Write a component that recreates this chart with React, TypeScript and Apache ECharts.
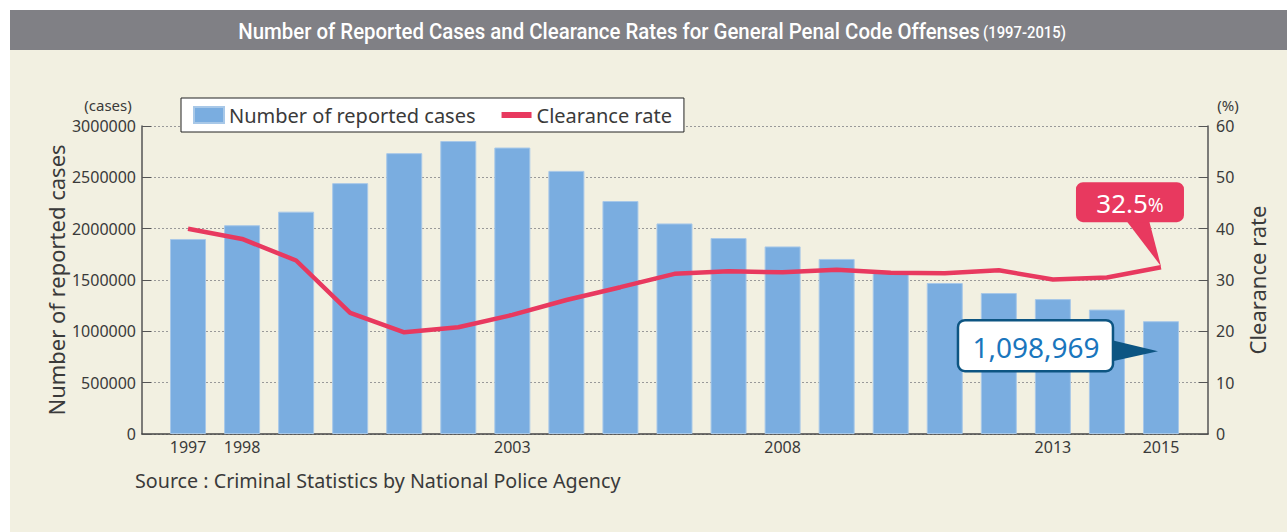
import React, { useEffect, useRef } from "react";
import * as echarts from "echarts";

const years = [
  "1997", "1998", "1999", "2000", "2001", "2002", "2003", "2004", "2005", "2006",
  "2007", "2008", "2009", "2010", "2011", "2012", "2013", "2014", "2015",
];
const reportedCases = [
  1899564, 2033546, 2165626, 2443470, 2735612, 2853739, 2790136, 2562767, 2269572, 2050850,
  1908836, 1826958, 1705000, 1578000, 1471000, 1373000, 1314140, 1212163, 1098969,
];
const clearanceRate = [
  40.0, 38.0, 33.8, 23.6, 19.8, 20.8, 23.2, 26.1, 28.6, 31.2,
  31.7, 31.5, 32.0, 31.4, 31.3, 31.9, 30.1, 30.5, 32.5,
];
const shownYearLabels = ["1997", "1998", "2003", "2008", "2013", "2015"];
const seriesNames = ["Number of reported cases", "Clearance rate"];
const titleMain = "Number of Reported Cases and Clearance Rates for General Penal Code Offenses";
const titleYears = "(1997-2015)";
const sourceText = "Source : Criminal Statistics by National Police Agency";
const lastCasesLabel = "1,098,969";
const lastRateLabel = "32.5";

export default function App() {
  const ref = useRef<HTMLDivElement>(null);
  useEffect(() => {
    document.body.style.margin = "0";
    const chart = echarts.init(ref.current!, null, { renderer: "svg" });
    const font = "'Noto Sans', 'Open Sans', sans-serif";
    const titleFont = "Roboto, 'Liberation Sans', sans-serif";
    const txt = "#3a3a3a";
    const barColor = "#7aade0";
    const lineColor = "#e8395f";

    // measure title width to fit the condensed look of the reference
    const cv = document.createElement("canvas");
    const ctx = cv.getContext("2d")!;
    ctx.font = `500 22px ${titleFont}`;
    const wA = ctx.measureText(titleMain + " ").width;
    ctx.font = `500 16px ${titleFont}`;
    const wB = ctx.measureText(titleYears).width;
    const titleScale = Math.min(1, 830 / (wA + wB));

    chart.setOption({
      animation: false,
      backgroundColor: "#f2f0e1",
      textStyle: { fontFamily: font },
      grid: [
        { left: 142, right: 79, top: 126, bottom: 98 },
        { left: 161, right: 99, top: 126, bottom: 98 },
      ],
      legend: {
        left: 181,
        top: 98,
        backgroundColor: "#ffffff",
        borderColor: "#222222",
        borderWidth: 1,
        borderRadius: 0,
        padding: [7, 12, 7, 12],
        itemWidth: 30,
        itemHeight: 16,
        itemGap: 26,
        textStyle: { fontSize: 20, color: txt, fontFamily: font },
        data: [
          { name: seriesNames[0], icon: "rect" },
          { name: seriesNames[1], icon: "path://M0,0h30v6h-30z" },
        ],
      },
      xAxis: [
        {
          type: "category",
          gridIndex: 0,
          data: years,
          axisLine: { lineStyle: { color: "#444", width: 1.5 } },
          axisTick: { show: false },
          axisLabel: { show: false },
        },
        {
          type: "category",
          gridIndex: 1,
          data: years,
          axisLine: { show: false },
          axisTick: { show: false },
          axisLabel: {
            interval: (i: number, v: string) => shownYearLabels.includes(v),
            fontSize: 16,
            color: txt,
            margin: 5,
          },
        },
      ],
      yAxis: [
        {
          type: "value",
          gridIndex: 0,
          min: 0,
          max: 3000000,
          interval: 500000,
          name: "Number of reported cases",
          nameLocation: "middle",
          nameRotate: 90,
          nameGap: 75,
          nameMoveOverlap: false,
          nameTextStyle: { fontSize: 22, color: txt },
          axisLine: { show: true, lineStyle: { color: "#555", width: 1.5 } },
          axisTick: { show: true, inside: true, length: 9, lineStyle: { color: "#555" } },
          axisLabel: { fontSize: 16, color: txt, margin: 6, formatter: (v: number) => String(v) },
          splitLine: { show: true, lineStyle: { color: "#999", type: [2, 2], width: 1 } },
        },
        {
          type: "value",
          gridIndex: 0,
          position: "right",
          min: 0,
          max: 60,
          interval: 10,
          name: "Clearance rate",
          nameLocation: "middle",
          nameRotate: 90,
          nameGap: 38,
          nameTextStyle: { fontSize: 22, color: txt },
          axisLine: { show: true, lineStyle: { color: "#555", width: 1.5 } },
          axisTick: { show: true, inside: true, length: 9, lineStyle: { color: "#555" } },
          axisLabel: { fontSize: 16, color: txt, margin: 8 },
          splitLine: { show: false },
        },
        { type: "value", gridIndex: 1, min: 0, max: 3000000, show: false, splitLine: { show: false } },
        { type: "value", gridIndex: 1, min: 0, max: 60, show: false, splitLine: { show: false } },
      ],
      series: [
        {
          name: seriesNames[0],
          type: "bar",
          xAxisIndex: 1,
          yAxisIndex: 2,
          data: reportedCases,
          barWidth: 36,
          itemStyle: { color: barColor, borderColor: "#a8c8e8", borderWidth: 1 },
        },
        {
          name: seriesNames[1],
          type: "line",
          xAxisIndex: 1,
          yAxisIndex: 3,
          data: clearanceRate,
          symbol: "none",
          lineStyle: { color: lineColor, width: 4.5 },
          itemStyle: { color: lineColor },
        },
      ],
    });

    const last = years.length - 1;
    const rateTip = chart.convertToPixel({ seriesIndex: 1 }, [last, clearanceRate[last]]) as number[];
    const barTop = chart.convertToPixel({ seriesIndex: 0 }, [last, reportedCases[last]]) as number[];

    const rx = rateTip[0] - 85;
    const ry = rateTip[1] - 85;
    const bx = barTop[0] - 203;
    const by = barTop[1] - 1;
    const bTipX = barTop[0] - 3;
    const bTipY = barTop[1] + 30;

    chart.setOption({
      graphic: [
        { type: "rect", shape: { x: 0, y: 0, width: 1287, height: 10 }, style: { fill: "#ffffff" }, z: 0 },
        { type: "rect", shape: { x: 0, y: 0, width: 10, height: 532 }, style: { fill: "#ffffff" }, z: 0 },
        { type: "rect", shape: { x: 10, y: 10, width: 1277, height: 40 }, style: { fill: "#808085" }, z: 0 },
        {
          type: "text",
          x: 652,
          y: 31,
          scaleX: titleScale,
          z: 1,
          style: {
            text: `{a|${titleMain}} {b|${titleYears}}`,
            align: "center",
            verticalAlign: "middle",
            rich: {
              a: { fontSize: 22, fontWeight: 500, fill: "#ffffff", fontFamily: titleFont },
              b: { fontSize: 16, fontWeight: 500, fill: "#ffffff", fontFamily: titleFont, padding: [3, 0, 0, 0] },
            },
          },
        },
        { type: "text", x: 108, y: 105, style: { text: "(cases)", fontSize: 15, fill: txt, align: "center", verticalAlign: "middle", fontFamily: font } },
        { type: "text", x: 1228, y: 105, style: { text: "(%)", fontSize: 15, fill: txt, align: "center", verticalAlign: "middle", fontFamily: font } },
        { type: "text", x: 135, y: 480, style: { text: sourceText, fontSize: 19.7, fill: txt, align: "left", verticalAlign: "middle", fontFamily: font } },
        // red callout
        {
          type: "polygon",
          z: 100,
          shape: { points: [[rx + 50, ry + 38], [rx + 73, ry + 38], [rateTip[0], rateTip[1] - 1]] },
          style: { fill: lineColor },
        },
        {
          type: "rect",
          z: 100,
          shape: { x: rx, y: ry, width: 108, height: 40, r: 7 },
          style: { fill: lineColor },
        },
        {
          type: "text",
          z: 101,
          x: rx + 54,
          y: ry + 21,
          style: {
            text: `{a|${lastRateLabel}}{b|%}`,
            align: "center",
            verticalAlign: "middle",
            rich: {
              a: { fontSize: 26, fill: "#ffffff", fontFamily: font },
              b: { fontSize: 19, fill: "#ffffff", fontFamily: font, padding: [4, 0, 0, 0] },
            },
          },
        },
        // blue callout
        {
          type: "polygon",
          z: 100,
          shape: { points: [[bx + 150, by + 19], [bx + 150, by + 42], [bTipX, bTipY]] },
          style: { fill: "#0d5582" },
        },
        {
          type: "rect",
          z: 100,
          shape: { x: bx, y: by, width: 155, height: 51, r: 7 },
          style: { fill: "#ffffff", stroke: "#0d5582", lineWidth: 2.5 },
        },
        {
          type: "text",
          z: 101,
          x: bx + 78,
          y: by + 27,
          style: { text: lastCasesLabel, fontSize: 28, fill: "#1a76bd", align: "center", verticalAlign: "middle", fontFamily: font },
        },
      ],
    });
    return () => chart.dispose();
  }, []);
  return <div ref={ref} style={{ width: 1287, height: 532 }} />;
}
